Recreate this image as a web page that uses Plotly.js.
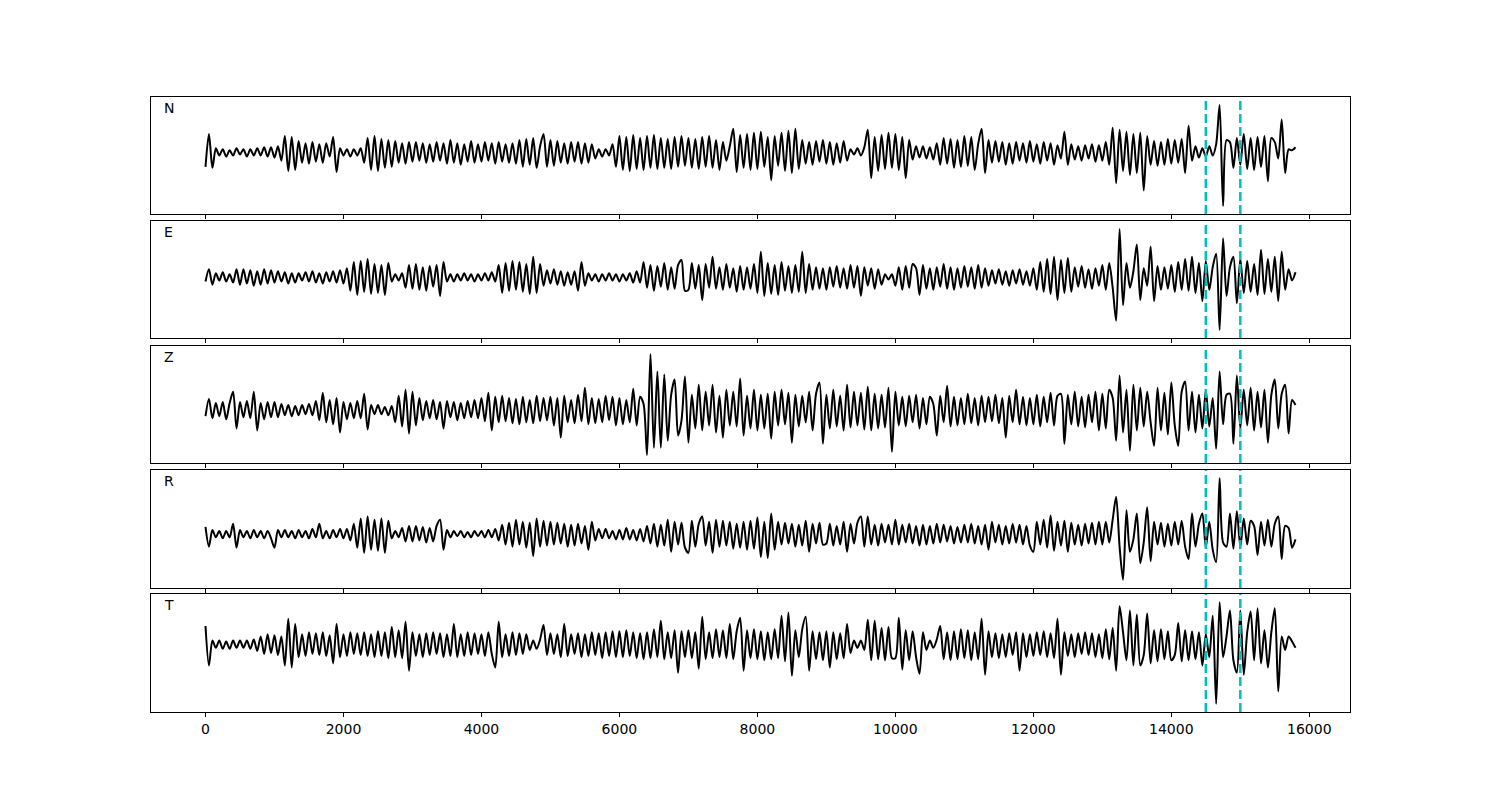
<!DOCTYPE html>
<html>
<head>
<meta charset="utf-8">
<script src="https://cdn.plot.ly/plotly-3.0.1.min.js"></script>
<style>html,body{margin:0;padding:0;background:#fff;}#chart{width:1500px;height:800px;}</style>
</head>
<body>
<div id="chart"></div>
<script>
// Channel names
const channels = ["N", "E", "Z", "R", "T"];
// Sample spacing of the traces (x units)
const sampleStep = 50;
// Pick marks (dashed vertical lines)
const pickTimes = [14500, 15000];
// Tick labels of the shared x axis
const xTicks = [0, 2000, 4000, 6000, 8000, 10000, 12000, 14000, 16000];

// Amplitude samples, one value every 50 x units (0 .. 15800)
const traceN = [
  -14, 18, -15, 4, -3, 3, -4, 2, -3, 4, -2, 3, -4, 3, -3, 4, -3, 5, -4, 5,
  -5, 6, -8, 16, -18, 15, -17, 11, -10, 9, -11, 10, -9, 8, -10, 9, -4, 15, -19, 4,
  -3, 3, -4, 3, -3, 4, -10, 14, -17, 16, -18, 13, -15, 12, -14, 11, -10, 9, -11, 10,
  -9, 10, -8, 9, -10, 8, -9, 10, -8, 9, -11, 12, -10, 9, -12, 8, -9, 11, -10, 8,
  -9, 10, -8, 9, -11, 10, -9, 8, -10, 9, -11, 12, -14, 13, -12, 14, -15, 6, 18, -14,
  12, -13, 11, -10, 9, -11, 10, -9, 10, -11, 9, -10, 8, -6, 3, -4, 3, -3, 8, -14,
  16, -17, 15, -18, 17, -16, 14, -17, 16, -15, 17, -16, 14, -15, 13, -16, 15, -14, 16, -13,
  14, -15, 13, -16, 15, -14, 16, -15, 12, -17, 10, -8, 6, 23, -19, 17, -15, 18, -17, 19,
  -16, 20, -14, 15, -27, 16, -13, 19, -18, 21, -20, 23, -16, 12, -11, 10, -12, 11, -9, 12,
  -11, 10, -12, 9, -10, 11, -8, 3, -2, 4, -3, 5, 22, -25, 15, -18, 17, -16, 19, -15,
  18, -17, 15, -25, 12, -7, 6, -5, 6, -6, 5, -7, 9, -12, 14, -11, 13, -15, 12, -14,
  16, -13, 15, -17, 8, 23, -20, 12, -10, 11, -9, 10, -12, 9, -11, 10, -8, 9, -10, 11,
  -9, 8, -11, 10, -8, 9, -12, 7, -6, 20, -12, 8, -7, 6, -8, 7, -6, 8, -9, 7,
  -8, 10, -12, 24, -30, 22, -18, 20, -22, 18, -20, 19, -37, 16, -12, 11, -13, 10, -12, 13,
  -11, 12, -10, 13, -20, 26, -8, 6, -5, 4, -4, 6, -3, 8, 46, -52, 12, 10, -15, 14,
  -12, 18, -16, 14, -17, 15, -14, 16, -28, 14, 10, -6, 32, -20, 3, 2, 5
];
const traceE = [
  -4, 8, -7, 4, -3, 5, -4, 3, -5, 8, -7, 8, -6, 7, -8, 6, -7, 8, -6, 7,
  -5, 6, -4, 5, -6, 4, -5, 4, -3, 5, -4, 6, -5, 4, -6, 5, -4, 6, -5, 7,
  -6, 9, -13, 15, -17, 16, -14, 18, -16, 13, -15, 12, -17, 14, -4, 3, -3, 4, -10, 12,
  -11, 13, -12, 10, -13, 11, -9, 12, -18, 15, -4, 3, -4, 3, -3, 4, -3, 3, -4, 3,
  -3, 4, -3, 5, -4, 12, -15, 14, -13, 16, -12, 15, -14, 13, -16, 20, -15, 13, -8, 7,
  -6, 8, -7, 6, -8, 5, -7, 6, -13, 15, -8, 4, -3, 3, -4, 3, -3, 4, -3, 3,
  -4, 3, -3, 4, -5, 6, -5, 15, -10, 12, -13, 11, -9, 14, -12, 10, -11, 12, 17, -13,
  -12, 14, -11, 12, -22, 13, -10, 20, -11, 10, -12, 13, -10, 9, -14, 11, -12, 10, -11, 13,
  -15, 25, -18, 14, -16, 12, -17, 15, -13, 11, -15, 12, -14, 25, -15, 13, -12, 10, -11, 9,
  -12, 10, -9, 11, -10, 9, -11, 12, -10, 11, -18, 10, -8, 9, -11, 8, -7, 3, -2, 3,
  -8, 10, -12, 11, -10, 13, 9, -17, 12, -11, 9, -12, 10, -9, 13, -11, 10, -12, 9, -10,
  11, -9, 10, -11, 12, -10, 9, -8, 7, -6, 8, -7, 6, -8, 7, -6, 8, -7, 6, -8,
  9, -12, 15, -14, 18, -16, 20, -22, 17, -15, 19, -14, 10, -9, 11, -10, 8, -11, 9, -8,
  12, -12, 14, -10, -42, 47, -27, 14, -10, 6, 32, -22, 9, -8, 30, -23, 11, -12, 10, -11,
  12, -14, 15, -12, 18, -13, 20, -15, 14, -23, 16, -12, 10, 23, -51, 38, -18, 10, 20, -25,
  18, -15, 16, -14, 13, -17, 27, -16, 18, -14, 20, -23, 25, -12, 8, -3, 5
];
const traceZ = [
  -6, 11, -8, 7, -6, 8, -9, 7, 18, -18, 8, -7, 9, -8, 18, -20, 7, -9, 8, -7,
  8, -7, 6, -5, 5, -6, 4, -5, 5, -4, 6, -5, 9, -10, 17, -12, 10, -14, 12, -22,
  8, -9, 7, -8, 9, -8, 16, -19, 5, -4, 5, -4, 3, -5, 4, -12, 14, -16, 20, -23,
  18, -15, 12, -10, 9, -8, 10, -9, 8, -18, 9, -7, 8, -10, 7, -8, 9, -7, 10, -8,
  12, -11, 17, -20, 13, -12, 14, -11, 12, -13, 11, -14, 13, -12, 10, -13, 14, -11, 12, -10,
  13, -15, 12, -27, 14, -12, 10, -13, 15, -11, 22, -14, 12, -13, 11, -12, 14, -10, 13, -15,
  12, -14, 10, -12, 21, -15, 13, 6, -44, 55, -37, 38, -37, 35, -30, 15, 30, -25, -10, 33,
  -32, 15, -18, 25, -20, 18, -15, 25, -22, 14, -27, 20, -15, 18, -16, 31, -25, 14, -18, 20,
  -20, 15, -18, 16, -28, 18, -15, 20, -14, 17, -32, 15, -16, 14, -12, 18, -20, 16, 27, -33,
  15, -18, 20, -16, 14, -20, 25, -17, 18, -15, 17, -19, 23, -20, 16, -18, 15, -17, 22, -41,
  18, -15, 13, -16, 14, -12, 15, -18, 12, -14, 13, 6, -25, 14, -12, 24, -16, 13, -15, 12,
  -14, 16, -13, 12, -15, 14, -12, 13, -11, 15, -13, 12, -27, 14, -12, 20, -14, 13, -15, 12,
  -14, 15, -16, 13, -12, 17, -15, 14, 16, -33, 15, -14, 18, -16, 13, -17, 15, -12, 18, -20,
  16, -18, 20, 12, -30, 34, -22, 20, -40, 25, -20, 22, -16, 18, -12, -35, 22, -20, 17, -24,
  27, -15, -35, 18, 28, -20, 18, -22, 15, -18, 20, -16, 12, -38, 38, -14, 15, 16, -33, 34,
  -18, 20, -15, 22, -20, 18, -17, 20, -32, 15, 30, -18, 16, 25, -23, 10, 5
];
const traceR = [
  7, -12, 4, -3, 3, -4, 3, -3, 10, -13, 4, -3, 3, -4, 4, -3, 3, -4, 3, -4,
  -13, 4, -3, 4, -3, 3, -4, 4, -3, 3, -4, 5, -3, 10, -4, 3, -4, 4, -3, 5,
  -4, 5, -6, 10, -13, 15, -18, 17, -15, 14, -16, 15, -18, 13, -4, 3, -3, 6, -7, 8,
  -7, 8, -6, 7, -8, 6, -7, 8, 14, -15, 4, -3, 3, -2, 3, -3, 2, -3, 3, -2,
  3, -3, 4, -3, 5, -6, 9, -10, 11, -12, 14, -10, 12, -13, 11, -21, 15, -12, 13, -11,
  12, -10, 11, -9, 10, -12, 9, -11, 10, -9, 8, -15, 12, -6, 5, -4, 5, -4, 3, -5,
  4, -5, 6, -5, 4, -6, 5, -7, 8, -9, 10, -12, 9, -11, 14, -17, 12, -10, 11, -13,
  -18, 13, -12, 10, 17, -11, 12, -18, 14, -12, 13, -11, 12, -14, 10, -13, 12, -15, 13, -14,
  16, -22, 12, -23, 20, -15, 12, -10, 11, -9, 10, -12, 9, -11, 13, -17, 10, -9, 11, -10,
  -9, 10, -11, 8, -10, 12, -17, 10, -9, 11, 17, -12, 17, -10, 9, -11, 10, -8, 9, -10,
  14, -10, 9, -8, 10, -9, 8, -11, 9, -10, 8, -9, 10, -8, 9, -7, 8, -9, 7, -8,
  9, -8, 10, -9, 8, -10, 9, -15, 12, -8, 9, -10, 8, -9, 10, -8, 9, -10, 8, -11,
  -17, 12, -10, 14, -13, 18, -16, 12, -11, 13, -17, 11, -10, 9, -11, 10, -9, 11, -10, 12,
  -10, 12, -8, 14, 36, -12, -44, 23, -17, -5, 20, -28, -8, 26, -26, 12, -10, 11, -12, 10,
  -11, 12, -10, 13, -12, -24, 20, -12, 10, 20, -13, 12, -15, -27, 54, -8, -12, 20, -14, 22,
  -12, 15, -10, 13, 8, -20, 12, -11, 14, -12, 10, 17, -24, 8, 6, -13, -5
];
const traceT = [
  18, -20, 4, -3, 4, -4, 3, -4, 4, -3, 4, -3, 4, -4, 5, -6, 8, -9, 10, -8,
  9, -10, 8, -20, 25, -22, 20, -12, 10, -11, 12, -9, 11, -10, 12, -11, 9, -18, 20, -12,
  10, -11, 12, -9, 11, -10, 12, -11, 10, -12, 13, -11, 12, -13, 17, -12, 14, -13, 22, -25,
  12, -11, 10, -12, 11, -10, 12, -9, 11, -12, 10, -11, 20, -12, 10, -11, 12, -10, 11, -9,
  10, -11, 12, -9, -22, 22, -12, 10, -11, 12, -10, 11, -9, 10, -5, 4, -4, 5, 19, -10,
  11, -9, 10, -12, 20, -11, 10, -9, 11, -12, 10, -11, 12, -10, 11, -13, 12, -11, 13, -12,
  13, -12, 14, -11, 12, -13, 11, -14, 12, -13, 15, -12, 23, -14, 12, -13, 14, -27, 13, -12,
  14, -13, 12, -23, 27, -14, 12, -13, 15, -12, 14, -13, 20, -14, 13, 26, -25, 14, -13, 15,
  -14, 13, -15, 12, -14, 15, -13, 28, -16, 31, -30, 14, -12, 15, 27, -25, 13, -14, 12, -15,
  13, -22, 12, -14, 11, -13, 20, -8, 4, -3, 4, -5, 24, -15, 23, -14, 16, -15, 17, -13,
  -13, 26, -24, 14, -15, 13, -12, -28, 12, -5, 4, -3, 5, 18, -14, 12, -15, 13, -14, 15,
  -13, 14, -15, 12, -14, 25, -29, 13, -12, 11, -13, 10, -12, 11, -10, 12, -25, 11, -12, 10,
  -11, 12, -10, 13, -12, 11, -13, 25, -29, 12, -11, 10, -12, 11, -9, 12, -10, 11, -12, 10,
  -13, 15, -14, 16, -25, 37, 12, -15, 33, -20, 29, -20, -10, 30, -18, 14, -16, 15, -14, 13,
  -15, -10, 21, -16, 14, -15, 13, -14, 12, -20, 10, -12, 28, -57, 41, -12, 8, 33, -15, -27,
  33, -29, 12, 32, -15, 35, -18, 14, -22, 12, 35, -45, 8, -5, 8, 3, -3
];

const traces = [traceN, traceE, traceZ, traceR, traceT];

// Panel geometry (pixels in a 1500x800 figure)
const panelTops = [97, 221, 346, 470, 594];
const panelBottoms = [214, 338, 463, 588, 712];
const marginT = 97, marginB = 88, marginL = 151, marginR = 150;
const plotH = 800 - marginT - marginB;
const plotW = 1500 - marginL - marginR;

const data = [];
const layout = {
  width: 1500, height: 800,
  margin: {l: marginL, r: marginR, t: marginT, b: marginB, pad: 0},
  paper_bgcolor: "#ffffff", plot_bgcolor: "#ffffff",
  showlegend: false,
  font: {family: "DejaVu Sans, sans-serif", size: 14, color: "#000000"},
  shapes: [], annotations: []
};

traces.forEach((vals, i) => {
  const n = i + 1;
  const sfx = n === 1 ? "" : String(n);
  const xs = vals.map((_, j) => j * sampleStep);
  data.push({
    x: xs, y: vals, type: "scatter", mode: "lines",
    xaxis: "x" + sfx, yaxis: "y" + sfx,
    line: {color: "#000000", width: 2, shape: "spline", smoothing: 0.8}, hoverinfo: "skip"
  });
  const mn = Math.min(...vals), mx = Math.max(...vals), pad = 0.08 * (mx - mn);
  const d0 = (800 - marginB - panelBottoms[i]) / plotH;
  const d1 = (800 - marginB - panelTops[i]) / plotH;
  layout["xaxis" + sfx] = {
    domain: [0, 1], anchor: "y" + sfx, range: [-790, 16590],
    tickmode: "array", tickvals: xTicks, ticktext: xTicks.map(String),
    showticklabels: n === 5, ticks: "outside", ticklen: 4, tickwidth: 1, tickcolor: "#000000",
    showline: true, mirror: true, linecolor: "#000000", linewidth: 1,
    showgrid: false, zeroline: false,
    tickfont: {family: "DejaVu Sans, sans-serif", size: 14, color: "#000000"}
  };
  layout["yaxis" + sfx] = {
    domain: [d0, d1], anchor: "x" + sfx, range: [mn - pad, mx + pad],
    showticklabels: false, ticks: "",
    showline: true, mirror: true, linecolor: "#000000", linewidth: 1,
    showgrid: false, zeroline: false
  };
  pickTimes.forEach(t => {
    layout.shapes.push({
      type: "line", xref: "x" + sfx, yref: "y" + sfx + " domain",
      x0: t, x1: t, y0: 0, y1: 1,
      line: {color: "#00BFBF", width: 2.5, dash: "9px,4px"}
    });
  });
  layout.annotations.push({
    xref: "x" + sfx + " domain", yref: "y" + sfx + " domain",
    x: 11 / plotW, y: 1 - 11 / (panelBottoms[i] - panelTops[i]),
    xanchor: "left", yanchor: "middle", showarrow: false,
    text: channels[i],
    font: {family: "DejaVu Sans, sans-serif", size: 14, color: "#000000"}
  });
});

Plotly.newPlot("chart", data, layout, {displayModeBar: false, staticPlot: true});
</script>
</body>
</html>
